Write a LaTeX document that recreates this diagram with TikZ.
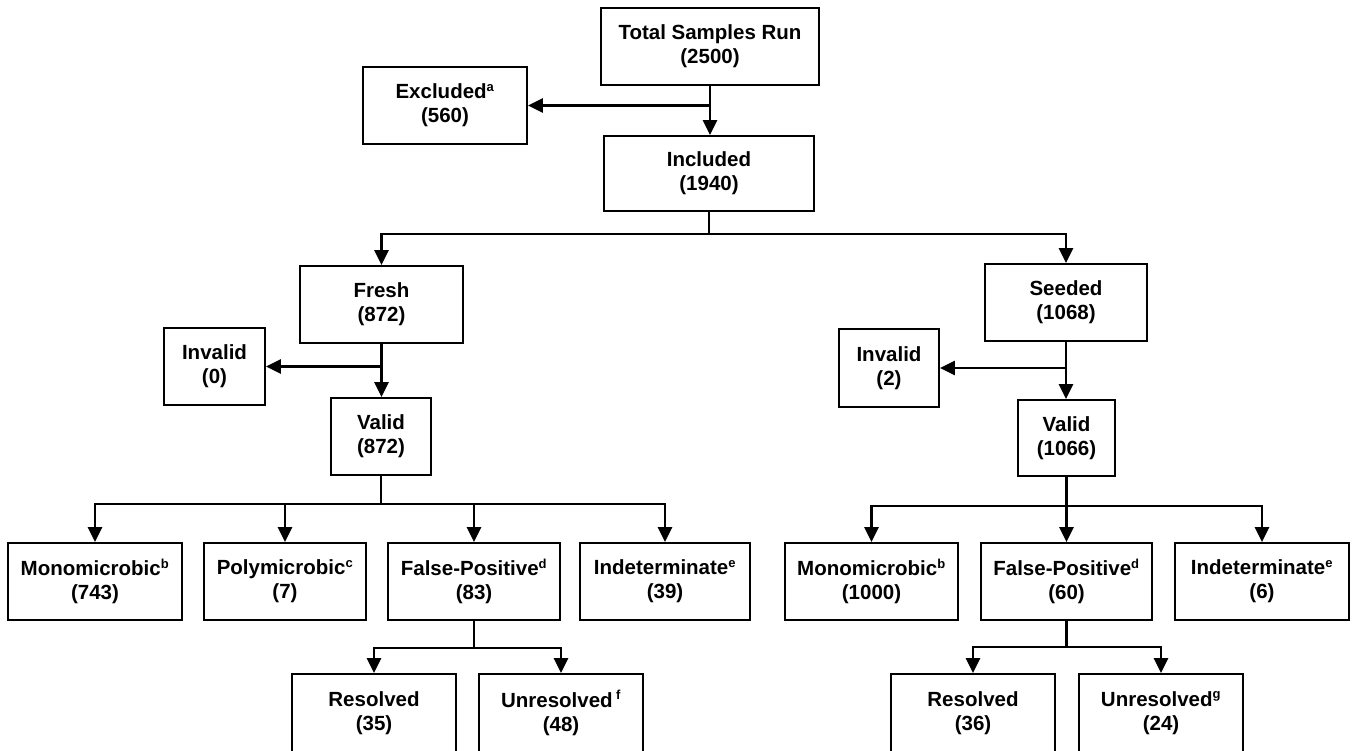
\documentclass[tikz,border=0pt]{standalone}
\usepackage{fontspec}
\setmainfont{Liberation Sans}
\usetikzlibrary{arrows.meta}
\tikzset{
  box/.style={draw=black, line width=1.8pt, fill=white, inner sep=0pt, align=center,
    font=\fontsize{20.5}{24}\selectfont\bfseries},
  arr/.style={line width=2.4pt, -{Triangle[length=15pt,width=14pt]}},
  ln/.style={line width=2.4pt}
}
\newcommand{\bx}[6]{\node[box, minimum width={(#4-#2)*1pt}, minimum height={(#5-#3)*1pt}] (#1) at ({(#2+#4)/2},{(#3+#5)/2}) {#6};}
\newcommand{\sx}[1]{\textsuperscript{\fontsize{13}{13}\selectfont #1}}
\begin{document}
\begin{tikzpicture}[x=1pt,y=-1pt]
\clip (0,0) rectangle (1352,750);
\fill[white] (0,0) rectangle (1352,750);
\useasboundingbox (0,0) rectangle (1352,750);
% top
\bx{total}{601}{8}{819}{85}{Total Samples Run\\(2500)}
\bx{excl}{363}{67}{527}{144}{Excluded\sx{a}\\(560)}
\bx{incl}{604}{136}{814}{211}{Included\\(1940)}
% second level
\bx{fresh}{300}{266}{463}{343}{Fresh\\(872)}
\bx{seed}{985}{264}{1147}{341}{Seeded\\(1068)}
\bx{invA}{164}{328}{265}{405}{Invalid\\(0)}
\bx{valA}{331}{398}{431}{475}{Valid\\(872)}
\bx{invB}{839}{329}{939}{407}{Invalid\\(2)}
\bx{valB}{1018}{400}{1115}{476}{Valid\\(1066)}
% left row
\bx{monoA}{8}{543}{182}{620}{Monomicrobic\sx{b}\\(743)}
\bx{poly}{204}{543}{366}{620}{Polymicrobic\sx{c}\\(7)}
\bx{fpA}{388}{543}{560}{620}{False-Positive\sx{d}\\(83)}
\bx{indA}{580}{543}{750}{620}{Indeterminate\sx{e}\\(39)}
\bx{resA}{292}{674}{456}{752}{Resolved\\(35)}
\bx{unrA}{479}{674}{643}{752}{Unresolved\,\sx{f}\\(48)}
% right row
\bx{monoB}{785}{543}{958}{620}{Monomicrobic\sx{b}\\(1000)}
\bx{fpB}{981}{543}{1152}{620}{False-Positive\sx{d}\\(60)}
\bx{indB}{1175}{543}{1349}{620}{Indeterminate\sx{e}\\(6)}
\bx{resB}{891}{674}{1055}{752}{Resolved\\(36)}
\bx{unrB}{1079}{674}{1243}{752}{Unresolved\sx{g}\\(24)}
% connectors
\draw[arr] (total.south) -- (total.south |- incl.north);
\coordinate (jA) at (total.south |- excl.east);
\draw[arr] (jA) -- (excl.east);
\draw[arr] (incl.south) -- ++(0,22) -| (fresh.north);
\draw[arr] (incl.south) -- ++(0,22) -| (seed.north);
\draw[arr] (fresh.south) -- (fresh.south |- valA.north);
\coordinate (jB) at (fresh.south |- invA.east);
\draw[arr] (jB) -- (invA.east);
\draw[arr] (seed.south) -- (seed.south |- valB.north);
\coordinate (jC) at (seed.south |- invB.east);
\draw[arr] (jC) -- (invB.east);
\foreach \t in {monoA,poly,fpA,indA}{
  \draw[arr] (valA.south) -- ++(0,28) -| (\t.north);
}
\foreach \t in {monoB,fpB,indB}{
  \draw[arr] (valB.south) -- ++(0,29) -| (\t.north);
}
\foreach \t in {resA,unrA}{
  \draw[arr] (fpA.south) -- ++(0,27) -| (\t.north);
}
\foreach \t in {resB,unrB}{
  \draw[arr] (fpB.south) -- ++(0,26) -| (\t.north);
}
\end{tikzpicture}
\end{document}
